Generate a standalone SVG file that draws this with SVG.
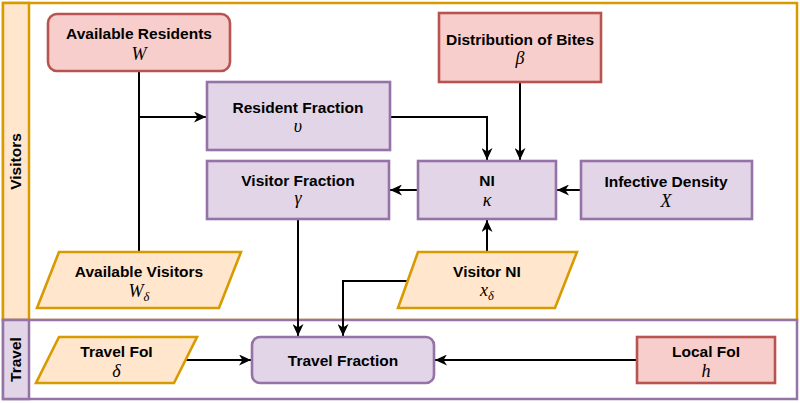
<svg xmlns="http://www.w3.org/2000/svg" width="800" height="403" viewBox="0 0 800 403">
<style>
.lbl{font-family:"Liberation Sans",Arial,sans-serif;font-weight:bold;font-size:15.5px;fill:#000;text-anchor:middle}
.m{font-family:"Liberation Serif","Times New Roman",serif;font-style:italic;font-size:18px;fill:#000;text-anchor:middle}
.sub{font-size:12.5px}
.red{fill:#f8cecc;stroke:#b85450;stroke-width:2.6}
.pur{fill:#e1d5e7;stroke:#9673a6;stroke-width:2.6}
.org{fill:#ffe6cc;stroke:#d79b00;stroke-width:2.6}
.c{fill:none;stroke:#000;stroke-width:2}
.a{marker-end:url(#arr)}
</style>
<defs>
<marker id="arr" markerUnits="userSpaceOnUse" markerWidth="13" markerHeight="11" refX="12" refY="5.5" orient="auto">
<path d="M0,0 L12,5.5 L0,11 L3.5,5.5 Z" fill="#000"/>
</marker>
</defs>
<g id="lane-visitors">
<rect x="3" y="3" width="794" height="317" fill="#fff" stroke="#d79b00" stroke-width="2.5"/>
<rect x="3" y="3" width="26" height="317" fill="#ffe6cc" stroke="#d79b00" stroke-width="2.5"/>
<text class="lbl" transform="translate(21,161.5) rotate(-90)">Visitors</text>
</g>
<g id="lane-travel">
<rect x="3" y="320" width="794" height="79" fill="#fff" stroke="#9673a6" stroke-width="2.5"/>
<rect x="3" y="320" width="26" height="79" fill="#e1d5e7" stroke="#9673a6" stroke-width="2.5"/>
<text class="lbl" transform="translate(21,359.5) rotate(-90)">Travel</text>
</g>
<g id="connectors">
<path class="c" d="M139,71 V252"/>
<path class="c a" d="M139,117 H206"/>
<path class="c a" d="M390,117 H487 V160"/>
<path class="c a" d="M520,82 V160"/>
<path class="c a" d="M581,190 H557"/>
<path class="c a" d="M418,190 H390"/>
<path class="c a" d="M298,219 V336"/>
<path class="c a" d="M487,252 V220"/>
<path class="c a" d="M409,281 H343 V336"/>
<path class="c a" d="M186,360 H251"/>
<path class="c a" d="M637,360 H435"/>
</g>
<g id="available-residents">
<rect class="red" x="48" y="14" width="182" height="57" rx="9"/>
<text class="lbl" x="139" y="39">Available Residents</text>
<text class="m" x="139" y="59.5">W</text>
</g>
<g id="distribution-of-bites">
<rect class="red" x="439" y="13" width="162" height="69"/>
<text class="lbl" x="520" y="45">Distribution of Bites</text>
<text class="m" x="520" y="64">β</text>
</g>
<g id="resident-fraction">
<rect class="pur" x="207" y="82" width="183" height="68"/>
<text class="lbl" x="298" y="113">Resident Fraction</text>
<text class="m" x="298" y="132">υ</text>
</g>
<g id="visitor-fraction">
<rect class="pur" x="207" y="161" width="182" height="58"/>
<text class="lbl" x="298" y="186">Visitor Fraction</text>
<text class="m" x="298" y="204">γ</text>
</g>
<g id="ni">
<rect class="pur" x="418" y="161" width="138" height="58"/>
<text class="lbl" x="487" y="186">NI</text>
<text class="m" x="487" y="206">κ</text>
</g>
<g id="infective-density">
<rect class="pur" x="581" y="161" width="171" height="58"/>
<text class="lbl" x="666" y="186.5">Infective Density</text>
<text class="m" x="666" y="207">X</text>
</g>
<g id="available-visitors">
<polygon class="org" points="59,252 241,252 219,308 37,308"/>
<text class="lbl" x="139" y="277">Available Visitors</text>
<text class="m" x="139" y="297">W<tspan class="sub" dy="4">δ</tspan></text>
</g>
<g id="visitor-ni">
<polygon class="org" points="418,252 577,252 555,308 398,308"/>
<text class="lbl" x="487" y="277">Visitor NI</text>
<text class="m" x="487" y="296">x<tspan class="sub" dy="4">δ</tspan></text>
</g>
<g id="travel-foi">
<polygon class="org" points="59,337 197,337 174,383 36,383"/>
<text class="lbl" x="116.5" y="357">Travel FoI</text>
<text class="m" x="116.5" y="376.5">δ</text>
</g>
<g id="travel-fraction">
<rect class="pur" x="252" y="337" width="182" height="46" rx="8"/>
<text class="lbl" x="343" y="365.5">Travel Fraction</text>
</g>
<g id="local-foi">
<rect class="red" x="637" y="337" width="138" height="46"/>
<text class="lbl" x="706" y="357">Local FoI</text>
<text class="m" x="706" y="376.5">h</text>
</g>
</svg>
